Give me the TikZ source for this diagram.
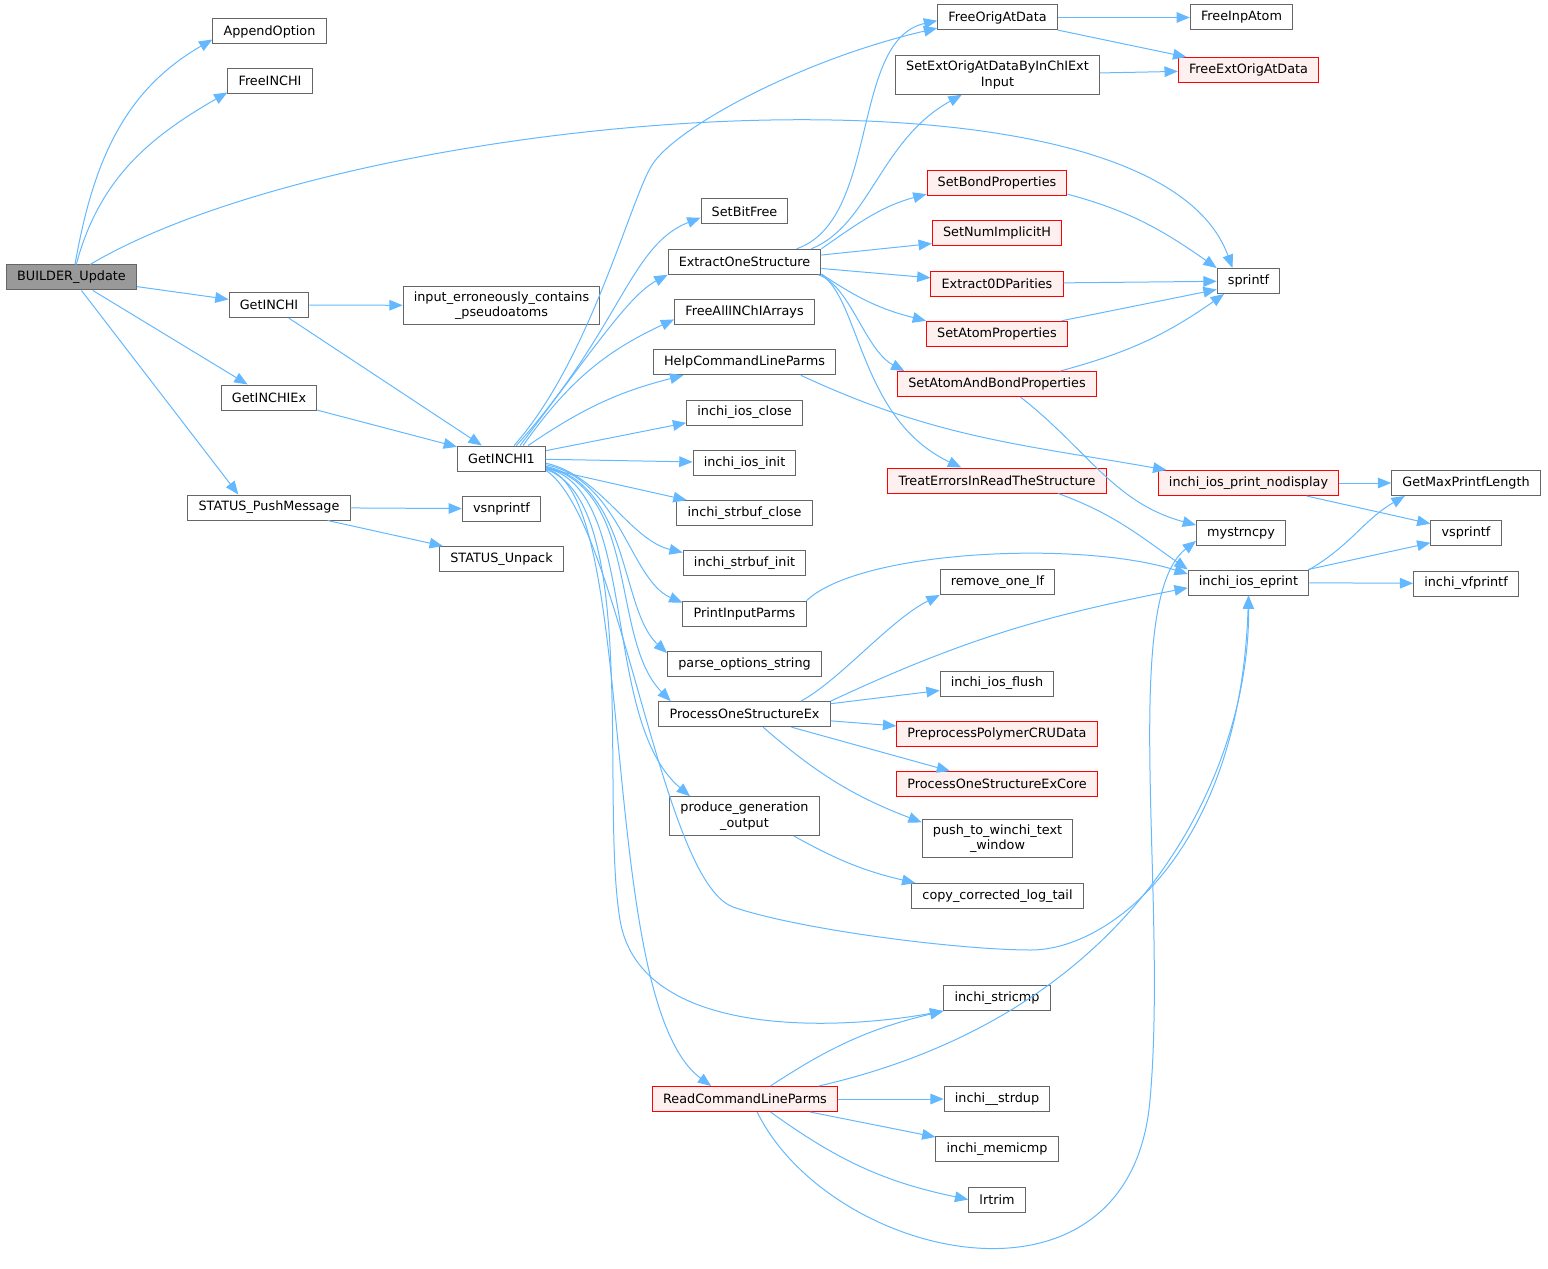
\documentclass[tikz,border=0pt]{standalone}
\usepackage{fontspec}
\setmainfont{DejaVu Sans}
\usepackage{xcolor}
\usetikzlibrary{positioning, arrows.meta}

\definecolor{callblue}{HTML}{63B8FF}
\definecolor{boxgray}{HTML}{666666}
\definecolor{rootgray}{HTML}{999999}
\definecolor{truncfill}{HTML}{FFF0F0}

\tikzset{
	fn/.style={rectangle, draw=boxgray, line width=0.75pt, minimum height=18.75pt, inner xsep=8pt, inner ysep=2pt, font=\fontsize{9.6}{11.5}\selectfont},
	fn2/.style={fn, align=center, minimum height=29pt},
	root/.style={fn, fill=rootgray},
	trunc/.style={fn, draw=red, fill=truncfill},
	call/.style={draw=callblue, line width=0.75pt, -{Triangle[length=10pt, width=8pt]}}
}

\begin{document}
\begin{tikzpicture}[x=0.75pt, y=0.75pt, node distance=18.2pt]
			\useasboundingbox (0,0) rectangle (1548,-1269);

			\node[root] (bu) at (71.5,-277.5) {BUILDER\_Update};
			\node[fn] (append) at (269.5,-31.5) {AppendOption};
			\node[fn] (freeinchi) at (270,-81) {FreeINCHI};
			\node[fn] (getinchi) at (269,-305) {GetINCHI};
			\node[fn] (getinchiex) at (269,-397.5) {GetINCHIEx};
			\node[fn] (pushmsg) at (269,-507.5) {STATUS\_PushMessage};

			\node[fn2] (pseudo) at (501.5,-305.5) {input\_erroneously\_contains\\\_pseudoatoms};
			\node[fn] (getinchi1) at (501.5,-458.5) {GetINCHI1};
			\node[fn, below = of getinchi1] (vsnprintf) {vsnprintf};
			\node[fn, below = of vsnprintf] (unpack) {STATUS\_Unpack};

			\node[fn] (bitfree) at (744.5,-211.5) {SetBitFree};
			\node[fn, below = of bitfree] (extract) {ExtractOneStructure};
			\node[fn, below = of extract] (freeall) {FreeAllINChIArrays};
			\node[fn, below = of freeall] (help) {HelpCommandLineParms};
			\node[fn, below = of help] (iosclose) {inchi\_ios\_close};
			\node[fn, below = of iosclose] (iosinit) {inchi\_ios\_init};
			\node[fn, below = of iosinit] (sbclose) {inchi\_strbuf\_close};
			\node[fn, below = of sbclose] (sbinit) {inchi\_strbuf\_init};
			\node[fn, below = of sbinit] (printparms) {PrintInputParms};
			\node[fn, below = of printparms] (parseopt) {parse\_options\_string};
			\node[fn, below = of parseopt] (process) {ProcessOneStructureEx};
			\node[fn2] (produce) at (744.5,-816) {produce\_generation\\\_output};
			\node[trunc] (readcmd) at (745,-1099) {ReadCommandLineParms};

			\node[fn] (freeorig) at (997.5,-17.5) {FreeOrigAtData};
			\node[fn2] (setext) at (997.5,-75) {SetExtOrigAtDataByInChIExt\\Input};
			\node[trunc] (bondprop) at (997,-183) {SetBondProperties};
			\node[trunc, below = of bondprop] (implh) {SetNumImplicitH};
			\node[trunc, below = of implh] (parities) {Extract0DParities};
			\node[trunc, below = of parities] (atomprop) {SetAtomProperties};
			\node[trunc, below = of atomprop] (atombond) {SetAtomAndBondProperties};
			\node[trunc] (treaterr) at (997,-480.5) {TreatErrorsInReadTheStructure};
			\node[fn] (removelf) at (997.5,-582) {remove\_one\_lf};
			\node[fn] (iosflush) at (997,-683.5) {inchi\_ios\_flush};
			\node[trunc, below = of iosflush] (polymer) {PreprocessPolymerCRUData};
			\node[trunc, below = of polymer] (excore) {ProcessOneStructureExCore};
			\node[fn2] (winchi) at (997.5,-838.5) {push\_to\_winchi\_text\\\_window};
			\node[fn] (logtail) at (997.5,-896) {copy\_corrected\_log\_tail};
			\node[fn] (stricmp) at (997,-998) {inchi\_stricmp};
			\node[fn] (strdup) at (997,-1099) {inchi\_\_strdup};
			\node[fn, below = of strdup] (memicmp) {inchi\_memicmp};
			\node[fn, below = of memicmp] (lrtrim) {lrtrim};

			\node[fn] (freeinp) at (1241.5,-17.5) {FreeInpAtom};
			\node[trunc] (freeext) at (1248.5,-70) {FreeExtOrigAtData};
			\node[fn] (sprintf) at (1248.5,-281) {sprintf};
			\node[trunc] (nodisplay) at (1248.5,-483) {inchi\_ios\_print\_nodisplay};
			\node[fn] (mystrncpy) at (1241,-533) {mystrncpy};
			\node[fn] (eprint) at (1248.5,-582.5) {inchi\_ios\_eprint};
			\node[fn] (maxlen) at (1466,-483) {GetMaxPrintfLength};
			\node[fn, below = of maxlen] (vsprintf) {vsprintf};
			\node[fn, below = of vsprintf] (vfprintf) {inchi\_vfprintf};


			\draw (bu.75) edge[call, out=80, in=210] (append.188);
			\draw (bu.70) edge[call, out=75, in=210] (freeinchi.195);
			\draw[call] (bu.35) .. controls (350,-110) and (1150,-40) .. (sprintf.141);
			\draw (bu) edge[call] (getinchi);
			\draw (bu) edge[call] (getinchiex);
			\draw (bu) edge[call] (pushmsg.157);
			\draw (getinchi) edge[call] (pseudo);
			\draw (getinchi) edge[call] (getinchi1);
			\draw (getinchiex) edge[call] (getinchi1);
			\draw (pushmsg) edge[call] (vsnprintf);
			\draw (pushmsg) edge[call] (unpack);

			\draw[call] (getinchi1.46) .. controls (590,-360) and (630,-200) .. (652,-165) .. controls (675,-128) and (800,-60) .. (freeorig.190);
			\draw[call] (getinchi1.41) .. controls (620,-330) and (630,-245) .. (bitfree.188);
			\draw[call] (getinchi1.35) .. controls (600,-340) and (630,-295) .. (extract.south west);
			\draw (getinchi1.31) edge[call, bend left=15] (freeall.186);
			\draw (getinchi1.26) edge[call, bend left=10] (help.192);
			\draw (getinchi1.10) edge[call] (iosclose.190);
			\draw (getinchi1) edge[call] (iosinit);
			\draw (getinchi1) edge[call] (sbclose);
			\draw[call] (getinchi1.-6) .. controls (600,-475) and (630,-540) .. (sbinit.170);
			\draw[call] (getinchi1.-8) .. controls (620,-480) and (630,-580) .. (printparms.170);
			\draw[call] (getinchi1.-10) .. controls (630,-485) and (620,-610) .. (parseopt.172);
			\draw[call] (getinchi1.-11) .. controls (640,-490) and (610,-640) .. (process.170);
			\draw[call] (getinchi1.-12) .. controls (640,-490) and (600,-720) .. (produce.160);
			\draw[call] (getinchi1.-13) .. controls (640,-490) and (595,-1000) .. (readcmd.159);
			\draw[call] (getinchi1.-14) .. controls (640,-500) and (600,-800) .. (620,-920) .. controls (640,-1040) and (840,-1030) .. (stricmp.south west);
			\draw[call] (getinchi1.-15) .. controls (620,-520) and (660,-880) .. (733,-907) .. controls (800,-930) and (960,-950) .. (1031,-950) .. controls (1110,-950) and (1240,-850) .. (eprint.south);

			\draw[call] (extract.14) .. controls (880,-220) and (850,-40) .. (freeorig.183);
			\draw[call] (extract.11) .. controls (870,-225) and (880,-140) .. (setext.209);
			\draw (extract.north east) edge[call, out=35, in=195] (bondprop.189);
			\draw (extract.5) edge[call] (implh.189);
			\draw (extract.-5) edge[call] (parities);
			\draw (extract.-9) edge[call, bend right=10] (atomprop.north west);
			\draw[call] (extract.-10) .. controls (850,-285) and (865,-350) .. (atombond.172);
			\draw[call] (extract.south east) .. controls (860,-300) and (860,-420) .. (treaterr.160);

			\draw (freeorig) edge[call] (freeinp);
			\draw (freeorig) edge[call] (freeext);
			\draw (setext) edge[call] (freeext);
			\draw (bondprop.-9) edge[call, out=-15, in=145] (sprintf.north west);
			\draw (parities) edge[call] (sprintf);
			\draw (atomprop) edge[call] (sprintf.195);
			\draw (atombond) edge[call, bend right=10] (sprintf.208);
			\draw (atombond.-29) edge[call, out=-38, in=165] (mystrncpy.170);
			\draw (help.-13) edge[call, out=-25, in=170] (nodisplay.171);
			\draw (treaterr.-12) edge[call, out=-20, in=145] (eprint.north west);
			\draw[call] (printparms.north east) .. controls (860,-550) and (1080,-540) .. (eprint.172);

			\draw[call] (process.13) .. controls (840,-680) and (890,-620) .. (removelf.south west);
			\draw (process.north east) edge[call, out=25, in=191] (eprint.185);
			\draw (process) edge[call] (iosflush);
			\draw (process) edge[call] (polymer);
			\draw (process) edge[call] (excore);
			\draw (process.-35) edge[call, bend right=10] (winchi.168);
			\draw (produce.-22) edge[call, bend right=8] (logtail.171);

			\draw (readcmd.27) edge[call, bend left=10] (stricmp.south west);
			\draw[call] (readcmd.10) .. controls (1150,-1010) and (1250,-760) .. (eprint.south);
			\draw (readcmd) edge[call] (strdup);
			\draw (readcmd) edge[call] (memicmp);
			\draw (readcmd.-27) edge[call, bend right=12] (lrtrim.west);
			\draw[call] (readcmd.-47) .. controls (830,-1260) and (1130,-1330) .. (1150,-1100) .. controls (1168,-900) and (1120,-600) .. (mystrncpy.190);

			\draw (nodisplay) edge[call] (maxlen);
			\draw (nodisplay) edge[call] (vsprintf.165);
			\draw (eprint.north east) edge[call, out=30, in=210] (maxlen.192);
			\draw (eprint) edge[call] (vsprintf.195);
			\draw (eprint) edge[call] (vfprintf);
		\end{tikzpicture}
\end{document}
